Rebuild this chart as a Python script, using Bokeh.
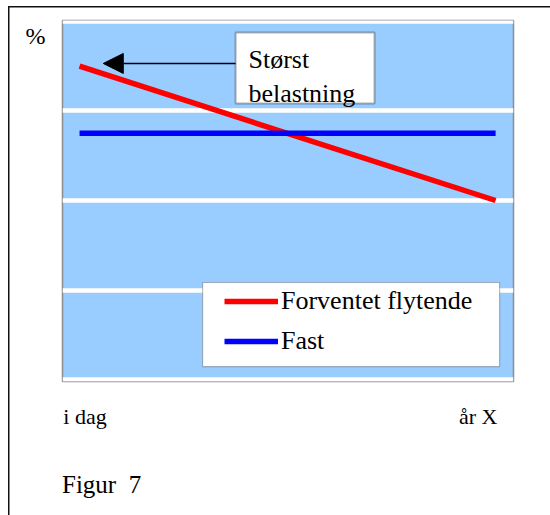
from bokeh.plotting import figure
from bokeh.models import (Range1d, FixedTicker, Legend, LegendItem, LinearAxis,
                          BoxAnnotation, Label, Arrow, NormalHead)
from bokeh.embed import file_html
from bokeh.resources import INLINE

# Horizon of the comparison: today -> year X
periods = ["i dag", "år X"]
period_x = [0, 1]

# Interest-rate level (%) for the two alternatives
floating_rate = [3.5, 2.0]    # expected floating rate, falling over time
fixed_rate = [2.75, 2.75]     # fixed rate, flat
series_names = ["Forventet flytende", "Fast"]

y_label = "%"
callout_lines = ["Størst", "belastning"]
caption = "Figur\u00a0\u00a07"

SERIF = "Liberation Serif"

# ---- layout constants (pixels / axis positions) ----
X_TICKS = [0.013, 0.958]       # where the period labels sit along the x axis
CAPTION_POS = 0.053            # where the figure caption sits along the x axis
Y_LABEL_POS = 3.84             # height of the "%" marker on the y axis
GRID_LEVELS = [0, 1, 2, 3, 4]

p = figure(width=550, height=515, output_backend="svg", toolbar_location=None,
           x_range=Range1d(-0.041, 1.043), y_range=Range1d(-0.022, 4.011),
           min_border_left=62, min_border_right=37, min_border_top=20,
           min_border_bottom=134,
           background_fill_color="#99CCFF", border_fill_alpha=0,
           outline_line_color="#8c8c8c", outline_line_width=1.5)

# page frame: thin dark rules along the top and left edge of the page
p.styles = {
    "background-color": "white",
    "background-image": "linear-gradient(#111111, #111111), linear-gradient(#111111, #111111)",
    "background-size": "1.5px 100%, 100% 1.5px",
    "background-position": "7.5px 5.5px, 7.5px 5.5px",
    "background-repeat": "no-repeat",
}


def plain_axis(axis, font_size, standoff):
    axis.axis_line_color = None
    axis.major_tick_line_color = None
    axis.minor_tick_line_color = None
    axis.major_label_standoff = standoff
    axis.major_label_text_font = SERIF
    axis.major_label_text_font_size = font_size
    axis.major_label_text_color = "black"


# x axis: only the two period names
p.xaxis.ticker = FixedTicker(ticks=X_TICKS)
p.xaxis.major_label_overrides = {X_TICKS[0]: periods[0], X_TICKS[1]: periods[1]}
plain_axis(p.xaxis[0], "22px", 16)

# caption line underneath the period names
caption_axis = LinearAxis(ticker=FixedTicker(ticks=[CAPTION_POS]),
                          major_label_overrides={CAPTION_POS: caption})
plain_axis(caption_axis, "25px", 33)
p.add_layout(caption_axis, "below")

# y axis: a single "%" marker near the top
p.yaxis.ticker = FixedTicker(ticks=[Y_LABEL_POS])
p.yaxis.major_label_overrides = {Y_LABEL_POS: y_label}
plain_axis(p.yaxis[0], "24px", 11)

# white horizontal bands
p.xgrid.visible = False
p.ygrid.ticker = FixedTicker(ticks=GRID_LEVELS)
p.ygrid.grid_line_color = "white"
p.ygrid.grid_line_width = 4.5
p.ygrid.grid_line_alpha = 1.0

# data series
r_float = p.line(period_x, floating_rate, line_color="#FF0000", line_width=5.5)
r_fixed = p.line(period_x, fixed_rate, line_color="#0000FF", line_width=5.5)

# callout: "Størst belastning" with arrow to the start of the floating line
callout_box = BoxAnnotation(left=0.375, right=0.709, top=3.877, bottom=3.084,
                            fill_color="white", fill_alpha=1.0,
                            line_color="black", line_width=2)
p.add_layout(callout_box)
for text, y in zip(callout_lines, [3.572, 3.199]):
    p.add_layout(Label(x=0.406, y=y, text=text, text_font=SERIF,
                       text_font_size="26px", text_color="black",
                       text_baseline="alphabetic"))
p.add_layout(Arrow(x_start=0.375, y_start=3.531, x_end=0.057, y_end=3.531,
                   line_color="black", line_width=1.5,
                   end=NormalHead(size=20, fill_color="black", line_color="black")))

# legend with a white framed box behind it
legend_box = BoxAnnotation(left=0.2957, right=1.0096, top=1.084, bottom=0.145,
                           fill_color="white", fill_alpha=1.0,
                           line_color="#222222", line_width=1.2)
p.add_layout(legend_box)
legend = Legend(items=[LegendItem(label=series_names[0], renderers=[r_float]),
                       LegendItem(label=series_names[1], renderers=[r_fixed])],
                location=(162, 25), orientation="vertical", padding=0, margin=0,
                spacing=10, glyph_width=54, glyph_height=30, label_standoff=3,
                label_height=30, label_text_font=SERIF,
                label_text_font_size="26px", label_text_color="black",
                background_fill_alpha=0, border_line_alpha=0)
p.add_layout(legend, "center")

open("out.html", "w").write(file_html(p, INLINE))
